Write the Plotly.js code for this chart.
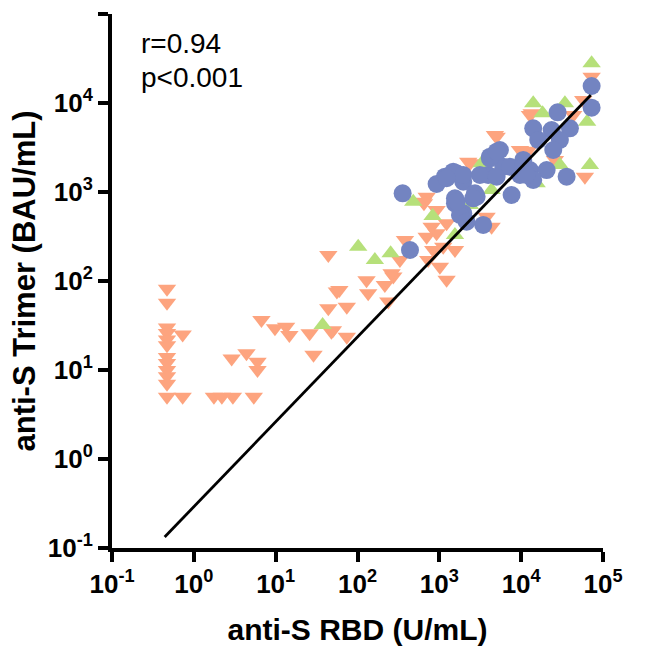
<!DOCTYPE html>
<html>
<head>
<meta charset="utf-8">
<script src="https://cdn.plot.ly/plotly-3.0.1.min.js"></script>
<style>html,body{margin:0;padding:0;background:#fff;}#chart{width:666px;height:658px;}</style>
</head>
<body>
<div id="chart"></div>
<script>
// anti-S RBD (U/mL) vs anti-S Trimer (BAU/mL)
const orangeX = [0.47,0.47,0.47,0.47,0.47,0.47,0.47,0.47,0.47,0.47,0.47,0.47,
  0.73,0.73,1.76,2.2,3.0,5.4,
  2.9,4.4,6.0,6.0,6.7,9.8,13.4,14.7,26,29,48,44,44,56,50,74,60,74,129,135,216,238,274,
  649,925,380,636,700,926,1227,1116,1552,842,731,1016,261,330,1227,3781,4353,805,2366,4775,700,
  72600,12790,5012,2255,9660,57330,43280,60110,25840,12190,13420];
const orangeY = [82,57,30,26,22,19,14,12,10,8.5,7,5,
  25,5,5,5,5,5,
  13.5,15.4,12.4,10,36.5,29.4,30.7,24.7,25.8,14.8,26.9,49.3,196,76,28,23.7,79,51.5,102,73,90,59,112,
  746,628,289,778,315,343,445,243,223,223,172,145,122,172,103,528,407,407,2100,4370,885,
  19770,7330,4180,2190,2965,10810,7330,1486,2290,2913,7660];

const greenX = [72600,14040,18280,34240,64000,69200,29740,4353,15450,480,828,1552,102,163,254,2366,37.5,3286];
const greenY = [27900,9930,7660,9930,6170,2010,2010,1052,1253,778,537,329,243,172,205,714,32.1,2100];

const blueX = [72600,72600,27880,14040,23550,39430,16160,29740,24660,5500,4150,6040,3954,3135,1479,1170,926,1960,
  5012,7295,10600,12790,20470,14040,9660,35920,2723,7640,1552,356,1626,2857,1960,3437,1552,1785,2157,438,
  4150,5012,10600,11660,1960,1626,2596,1227];
const blueY = [15530,8860,7860,5200,4970,5200,3840,3840,2965,2965,2493,1925,1552,1552,1690,1486,1230,1306,
  1486,1925,2290,1766,1766,1365,1552,1486,966,925,849,966,1622,885,577,426,746,552,463,223,
  2392,2838,1925,1552,1552,778,849,1427];

const fitX = [0.44, 71000];
const fitY = [0.133, 12300];

const tickVals = [0.1, 1, 10, 100, 1000, 10000, 100000];
const tickText = ['10<sup>-1</sup>','10<sup>0</sup>','10<sup>1</sup>','10<sup>2</sup>','10<sup>3</sup>','10<sup>4</sup>','10<sup>5</sup>'];

const FONT = 'Arial, "Liberation Sans", Helvetica, sans-serif';

const traces = [
  {x: orangeX, y: orangeY, type: 'scatter', mode: 'markers', name: 'group 1',
   marker: {symbol: 'triangle-down', size: 16, color: '#FDA47F', line: {width: 0}}},
  {x: greenX, y: greenY, type: 'scatter', mode: 'markers', name: 'group 2',
   marker: {symbol: 'triangle-up', size: 16, color: '#B6E07A', line: {width: 0}}},
  {x: blueX, y: blueY, type: 'scatter', mode: 'markers', name: 'group 3',
   marker: {symbol: 'circle', size: 18, color: '#7384C1', line: {width: 0}}},
  {x: fitX, y: fitY, type: 'scatter', mode: 'lines', name: 'fit',
   line: {color: '#000', width: 2.8}}
];

const axisCommon = {
  type: 'log', range: [-1, 5], tickvals: tickVals, ticktext: tickText,
  showgrid: false, zeroline: false, showline: true, linecolor: '#000', linewidth: 4,
  ticks: 'outside', ticklen: 10, tickwidth: 4, tickcolor: '#000',
  tickfont: {family: FONT, size: 26, color: '#000', weight: 700}
};

const layout = {
  width: 666, height: 658, autosize: false,
  margin: {l: 112, r: 63, t: 14, b: 110},
  paper_bgcolor: '#fff', plot_bgcolor: '#fff',
  showlegend: false,
  xaxis: Object.assign({}, axisCommon, {
    title: {text: 'anti-S RBD (U/mL)', font: {family: FONT, size: 30, color: '#000', weight: 700}, standoff: 22}
  }),
  yaxis: Object.assign({}, axisCommon, {
    title: {text: 'anti-S Trimer (BAU/mL)', font: {family: FONT, size: 31, color: '#000', weight: 700}, standoff: 4}
  }),
  annotations: [
    {xref: 'paper', yref: 'paper', x: 0.055, y: 0.945, xanchor: 'left', yanchor: 'middle', showarrow: false,
     text: 'r=0.94', font: {family: FONT, size: 28, color: '#000'}},
    {xref: 'paper', yref: 'paper', x: 0.055, y: 0.882, xanchor: 'left', yanchor: 'middle', showarrow: false,
     text: 'p&lt;0.001', font: {family: FONT, size: 28, color: '#000'}}
  ]
};

Plotly.newPlot('chart', traces, layout, {displayModeBar: false, staticPlot: true});
</script>
</body>
</html>
